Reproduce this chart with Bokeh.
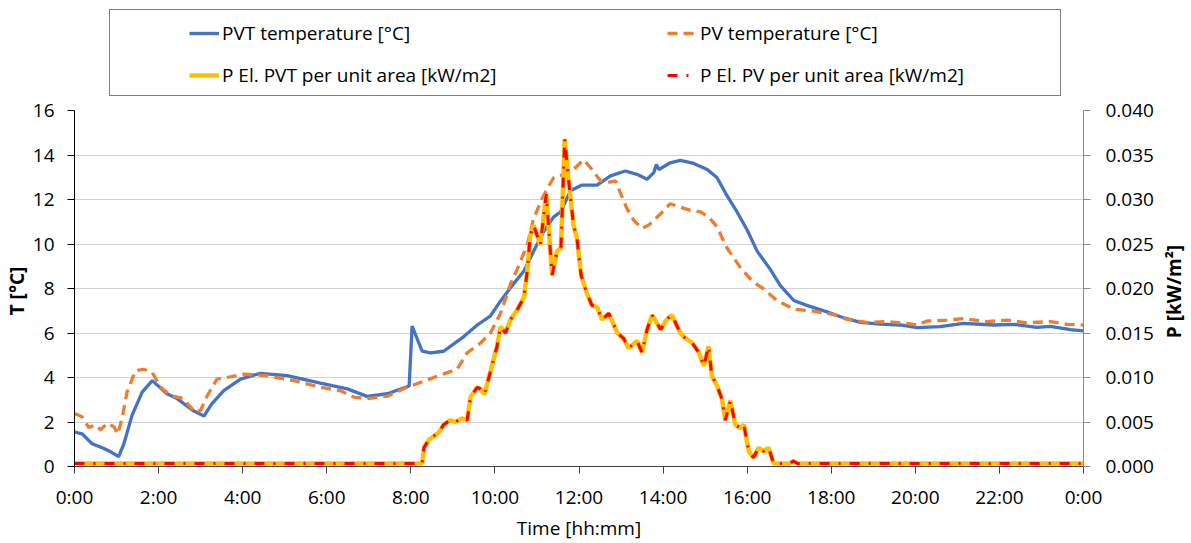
import math
from bokeh.plotting import figure
from bokeh.layouts import column, row
from bokeh.models import (Range1d, LinearAxis, FixedTicker, NumeralTickFormatter,
                          Legend, LegendItem)
from bokeh.core.properties import value
from bokeh.embed import file_html
from bokeh.resources import INLINE

FONT = "Open Sans"

# ---------------- data ----------------
x_ticks = [0, 2, 4, 6, 8, 10, 12, 14, 16, 18, 20, 22, 24]
x_tick_labels = ["0:00", "2:00", "4:00", "6:00", "8:00", "10:00", "12:00",
                 "14:00", "16:00", "18:00", "20:00", "22:00", "0:00"]
t_ticks = [0, 2, 4, 6, 8, 10, 12, 14, 16]
p_ticks = [0.0, 0.005, 0.010, 0.015, 0.020, 0.025, 0.030, 0.035, 0.040]

# PVT temperature [°C]
time_pvt = [0.0, 0.18, 0.42, 0.70, 0.86, 1.05, 1.17, 1.37, 1.61, 1.85, 2.20, 2.44,
            2.84, 3.08, 3.27, 3.55, 3.95, 4.42, 5.06, 5.85, 6.49, 6.96, 7.44, 7.96,
            8.03, 8.27, 8.47, 8.78, 9.26, 9.58, 9.89, 10.13, 10.41, 10.69, 10.92,
            11.16, 11.40, 11.56, 11.80, 12.07, 12.43, 12.75, 13.10, 13.38, 13.62,
            13.78, 13.84, 13.90, 14.17, 14.41, 14.73, 15.05, 15.28, 15.52, 15.76,
            16.00, 16.24, 16.55, 16.79, 17.11, 17.42, 17.90, 18.22, 18.69, 19.17,
            19.64, 20.04, 20.59, 21.15, 21.86, 22.34, 22.89, 23.21, 23.69, 24.0]
temp_pvt = [1.55, 1.47, 1.02, 0.81, 0.66, 0.45, 0.99, 2.31, 3.34, 3.86, 3.27, 3.05,
            2.49, 2.27, 2.83, 3.41, 3.93, 4.19, 4.08, 3.75, 3.49, 3.15, 3.27, 3.62,
            6.31, 5.18, 5.11, 5.18, 5.84, 6.36, 6.76, 7.43, 8.13, 8.79, 9.67,
            10.56, 11.22, 11.44, 12.39, 12.65, 12.65, 13.06, 13.28, 13.13, 12.91,
            13.21, 13.57, 13.35, 13.65, 13.76, 13.62, 13.35, 12.99, 12.17, 11.44,
            10.63, 9.67, 8.86, 8.13, 7.46, 7.24, 6.95, 6.73, 6.48, 6.40,
            6.36, 6.24, 6.29, 6.43, 6.36, 6.39, 6.25, 6.30, 6.15, 6.10]

# PV temperature [°C]
time_pv = [0.0, 0.18, 0.34, 0.50, 0.62, 0.78, 0.94, 1.03, 1.13, 1.25, 1.45, 1.65,
           1.85, 2.05, 2.28, 2.60, 2.72, 2.88, 3.00, 3.16, 3.39, 3.63, 4.03, 4.58,
           5.22, 5.85, 6.32, 6.64, 6.96, 7.44, 7.91, 8.23, 8.70, 9.10, 9.34, 9.66,
           9.89, 10.13, 10.37, 10.53, 10.77, 10.92, 11.12, 11.24, 11.40, 11.64,
           11.87, 12.11, 12.31, 12.51, 12.67, 12.87, 12.98, 13.14, 13.30, 13.50,
           13.66, 13.94, 14.17, 14.41, 14.65, 14.89, 15.08, 15.28, 15.52, 15.84,
           16.11, 16.39, 16.71, 17.11, 17.58, 18.06, 18.38, 18.85, 19.33, 19.80,
           20.04, 20.28, 20.75, 21.15, 21.70, 22.18, 22.65, 23.21, 23.61, 24.0]
temp_pv = [2.38, 2.24, 1.75, 1.87, 1.65, 1.94, 1.79, 1.46, 2.16, 3.34, 4.30, 4.37,
           4.22, 3.56, 3.19, 3.05, 2.75, 2.43, 2.53, 3.19, 3.93, 4.00, 4.15, 4.08,
           3.86, 3.56, 3.41, 3.12, 3.05, 3.16, 3.56, 3.78, 4.11, 4.37, 5.11, 5.55,
           5.99, 6.87, 8.20, 8.86, 9.97, 11.14, 12.03, 12.47, 12.99, 13.13,
           13.35, 13.79, 13.35, 12.84, 12.76, 12.84, 12.32, 11.59, 11.07, 10.70,
           10.85, 11.36, 11.81, 11.66, 11.51, 11.44, 11.22, 10.78, 9.82, 8.94,
           8.35, 7.98, 7.46, 7.07, 6.98, 6.83, 6.61, 6.48, 6.51, 6.43,
           6.36, 6.54, 6.58, 6.65, 6.51, 6.58, 6.46, 6.51, 6.39, 6.36]

# Electrical power per unit area [kW/m2]
time_power = [0.0, 8.27, 8.31, 8.43, 8.54, 8.66, 8.78, 8.94, 9.06, 9.22, 9.34, 9.42,
              9.58, 9.66, 9.75, 9.89, 10.05, 10.13, 10.25, 10.37, 10.53, 10.69,
              10.77, 10.84, 10.92, 11.08, 11.22, 11.36, 11.48, 11.57, 11.66, 11.75,
              11.87, 11.95, 12.05, 12.19, 12.31, 12.43, 12.55, 12.71, 12.91, 13.06,
              13.18, 13.38, 13.50, 13.62, 13.74, 13.94, 14.10, 14.21, 14.41, 14.53,
              14.69, 14.85, 14.97, 15.08, 15.16, 15.28, 15.40, 15.48, 15.60, 15.72,
              15.84, 15.92, 16.04, 16.15, 16.27, 16.39, 16.51, 16.63, 17.00, 17.10,
              17.20, 24.0]
power_pvt = [0.00033, 0.00033, 0.0021, 0.0030, 0.0034, 0.0038, 0.0047, 0.0052,
             0.0050, 0.0054, 0.0052, 0.0078, 0.0089, 0.0087, 0.0081, 0.0106,
             0.0135, 0.0157, 0.0150, 0.0165, 0.0176, 0.0190, 0.0220, 0.0260,
             0.0271, 0.0249, 0.0306, 0.0215, 0.0242, 0.0246, 0.0368, 0.0323,
             0.0271, 0.0257, 0.0215, 0.0194, 0.0181, 0.0179, 0.0165, 0.0172,
             0.0150, 0.0144, 0.0133, 0.0141, 0.0128, 0.0154, 0.0170, 0.0154,
             0.0166, 0.0170, 0.0150, 0.0144, 0.0139, 0.0128, 0.0113, 0.0135,
             0.0102, 0.0091, 0.0076, 0.0052, 0.0074, 0.0047, 0.0043, 0.0047,
             0.0017, 0.0010, 0.0021, 0.0017, 0.0021, 0.00033, 0.00033, 0.0006,
             0.00033, 0.00033]
power_pv = list(power_pvt)  # the two power curves coincide in the reference

labels = ["PVT temperature [°C]", "PV temperature [°C]",
          "P El. PVT per unit area [kW/m2]", "P El. PV per unit area [kW/m2]"]
right_axis_title = "P [kW/m²]"

# ---------------- styles ----------------
S_PVT = dict(line_color="#4472C4", line_width=3.3)
S_PV = dict(line_color="#ED7D31", line_width=3.3, line_dash="10 6")
S_PPVT = dict(line_color="#FFC000", line_width=4.5)
S_PPV = dict(line_color="#FF0000", line_width=3, line_dash="10 9 2 9")

MAIN_W = 1161
LEG_H = 97

# ---------------- main figure ----------------
p = figure(width=MAIN_W, height=543 - LEG_H, x_range=Range1d(0, 24), y_range=Range1d(0, 16),
           output_backend="svg", toolbar_location=None,
           min_border_left=74, min_border_right=MAIN_W - 1083,
           min_border_top=110 - LEG_H, min_border_bottom=71)
p.outline_line_color = None
p.extra_y_ranges = {"power": Range1d(0, 0.04)}

p.xgrid.grid_line_color = None
p.ygrid.ticker = FixedTicker(ticks=t_ticks)
p.ygrid.grid_line_color = "#a6a6a6"
p.ygrid.grid_line_dash = "1 1"
p.ygrid.grid_line_width = 1


def style_axis(ax, color):
    ax.axis_line_color = color
    ax.major_tick_line_color = color
    ax.minor_tick_line_color = None
    ax.major_tick_in = 0
    ax.major_tick_out = 7
    ax.major_label_text_font = FONT
    ax.major_label_text_font_size = "19px"
    ax.major_label_text_color = "black"
    ax.axis_label_text_font = FONT
    ax.axis_label_text_font_size = "19px"
    ax.axis_label_text_color = "black"


xa = p.xaxis[0]
style_axis(xa, "#404040")
xa.ticker = FixedTicker(ticks=x_ticks)
xa.major_label_overrides = {t: lab for t, lab in zip(x_ticks, x_tick_labels)}
xa.axis_label = "Time [hh:mm]"
xa.axis_label_text_font_style = "normal"
xa.major_label_standoff = 10
xa.axis_label_standoff = 2

ya = p.yaxis[0]
style_axis(ya, "black")
ya.ticker = FixedTicker(ticks=t_ticks)
ya.axis_label = "T  [°C]"
ya.axis_label_text_font_style = "bold"
ya.major_label_standoff = 13
ya.axis_label_standoff = 0

ra = LinearAxis(y_range_name="power", ticker=FixedTicker(ticks=p_ticks),
                formatter=NumeralTickFormatter(format="0.000"))
style_axis(ra, "#8a8a8a")
ra.major_label_standoff = 15
p.add_layout(ra, "right")

p.line(time_pvt, temp_pvt, **S_PVT)
p.line(time_pv, temp_pv, **S_PV)
p.line(time_power, power_pvt, y_range_name="power", **S_PPVT)
p.line(time_power, power_pv, y_range_name="power", **S_PPV)

# ---------------- right-axis title (narrow strip, reads bottom-to-top) ----------------
lab = figure(width=1191 - MAIN_W, height=543, x_range=Range1d(0, 1), y_range=Range1d(0, 1),
             output_backend="svg", toolbar_location=None,
             min_border_left=0, min_border_right=0, min_border_top=110,
             min_border_bottom=71)
lab.outline_line_color = None
lab.axis.visible = False
lab.grid.visible = False
lab.text(x=[0.40], y=[0.5], text=[right_axis_title], angle=math.pi / 2,
         text_align="center", text_baseline="middle", text_font=value(FONT),
         text_font_style="bold", text_font_size="19px", text_color="black")

# ---------------- legend strip (separate figure above) ----------------
lg = figure(width=MAIN_W, height=LEG_H, x_range=Range1d(0, 1), y_range=Range1d(0, 1),
            output_backend="svg", toolbar_location=None,
            min_border_left=0, min_border_right=0, min_border_top=0,
            min_border_bottom=0)
lg.outline_line_color = None
lg.axis.visible = False
lg.grid.visible = False

off = [-5, -4]
k_pvt = lg.line(off, off, **S_PVT)
k_pv = lg.line(off, off, **S_PV)
k_ppvt = lg.line(off, off, **S_PPVT)
k_ppv = lg.line(off, off, **S_PPV)
k_box = lg.line(off, off, line_alpha=0)

FX = 74  # frame left of the aligned strip
box = Legend(items=[LegendItem(label=" ", renderers=[k_box])],
             location=(109 - FX, LEG_H - 96), glyph_width=950, glyph_height=85,
             padding=0, margin=0, label_standoff=0, label_width=0,
             label_height=0, spacing=0,
             border_line_color="black", border_line_width=1.2,
             background_fill_color="white", background_fill_alpha=1,
             label_text_font_size="1px")
lg.add_layout(box, "center")

common = dict(padding=0, margin=0, spacing=16, glyph_width=30, glyph_height=26,
              label_height=26, label_standoff=3,
              border_line_alpha=0, background_fill_alpha=0,
              label_text_font=FONT, label_text_font_size="19px",
              label_text_color="black")
leg_a = Legend(items=[LegendItem(label=labels[0], renderers=[k_pvt]),
                      LegendItem(label=labels[2], renderers=[k_ppvt])],
               location=(189 - FX, LEG_H - 88), **common)
leg_b = Legend(items=[LegendItem(label=labels[1], renderers=[k_pv]),
                      LegendItem(label=labels[3], renderers=[k_ppv])],
               location=(667 - FX, LEG_H - 88), **common)
lg.add_layout(leg_a, "center")
lg.add_layout(leg_b, "center")

layout = row(column(lg, p, spacing=0), lab, spacing=0)
open("out.html", "w").write(file_html(layout, INLINE))
